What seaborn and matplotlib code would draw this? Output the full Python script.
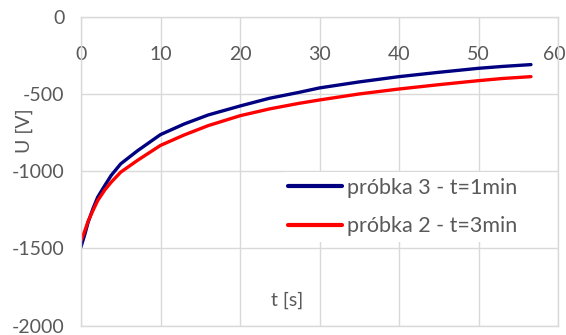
import matplotlib
matplotlib.use("Agg")
import matplotlib.pyplot as plt
import matplotlib.transforms as mtransforms
import seaborn as sns
import pandas as pd

# ---- data ----
t_s = [0, 0.5, 0.9, 1.5, 2.1, 3.0, 3.8, 5.0, 7.1, 10, 13, 16, 20, 23.7, 27.4, 30, 35, 40, 45, 50, 53, 56.6]
u_probka3 = [-1490, -1405, -1330, -1243, -1168, -1092, -1027, -952, -868, -763, -694, -636, -578, -528,
             -490, -461, -422, -388, -360, -334, -322, -310]
u_probka2 = [-1450, -1383, -1323, -1255, -1190, -1121, -1071, -1006, -930, -833, -765, -705, -641, -597,
             -561, -539, -500, -468, -440, -414, -400, -388]
series_names = ["próbka 3 - t=1min", "próbka 2 - t=3min"]
x_ticks = [0, 10, 20, 30, 40, 50, 60]
y_ticks = [-2000, -1500, -1000, -500, 0]
y_tick_labels = ["-2000", "-1500", "-1000", "-500", "0"]

df = pd.concat([
    pd.DataFrame({"t": t_s, "U": u_probka3, "series": series_names[0]}),
    pd.DataFrame({"t": t_s, "U": u_probka2, "series": series_names[1]}),
])

sns.set_style("white")
plt.rcParams["font.family"] = ["Lato", "DejaVu Sans"]
plt.rcParams["axes.unicode_minus"] = False

TXT = "#595959"
GRID = "#D9D9D9"

fig = plt.figure(figsize=(5.66, 3.35), dpi=100)
ax = fig.add_axes([81 / 566, (335 - 325.7) / 335, 477 / 566, 309 / 335])

sns.lineplot(data=df, x="t", y="U", hue="series", palette=["#000080", "#FF0000"],
             linewidth=2.4, ax=ax, sort=False)

ax.set_xlim(0, 60)
ax.set_ylim(-2000, 0)
ax.set_xticks(x_ticks)
ax.set_yticks(y_ticks, y_tick_labels)
ax.grid(True, color=GRID, linewidth=1)
for s in ax.spines.values():
    s.set_color(GRID)
    s.set_linewidth(1)

ax.tick_params(axis="both", length=0, labelsize=14, labelcolor=TXT)
ax.tick_params(axis="y", pad=12)
ax.tick_params(axis="x", labelbottom=False, labeltop=True, pad=-33)

# keep the last x label ("60") inside the figure edge
last_tick = ax.xaxis.get_major_ticks()[-1]
last_tick.label2.set_transform(last_tick.label2.get_transform()
                               + mtransforms.ScaledTranslation(-4 / 100, 0, fig.dpi_scale_trans))

ax.set_xlabel("")
ax.set_ylabel("")
fig.text(287 / 566, 1 - 300 / 335, "t [s]", fontsize=14, color=TXT, ha="center", va="center")
fig.text(24 / 566, 1 - 131 / 335, "U [V]", rotation=90, fontsize=14, color=TXT, ha="center", va="center")

leg = ax.legend(loc="center left", bbox_to_anchor=((283 - 81) / 477, (325.7 - 207) / 309),
                frameon=True, fontsize=15.5, handlelength=2.5, handletextpad=0.23,
                labelspacing=0.85, borderpad=0.25, borderaxespad=0)
leg.get_frame().set_facecolor("white")
leg.get_frame().set_edgecolor("none")
leg.get_frame().set_alpha(1)
for txt in leg.get_texts():
    txt.set_color(TXT)
for ln in leg.get_lines():
    ln.set_linewidth(3)

fig.savefig("out.png", dpi=100)
